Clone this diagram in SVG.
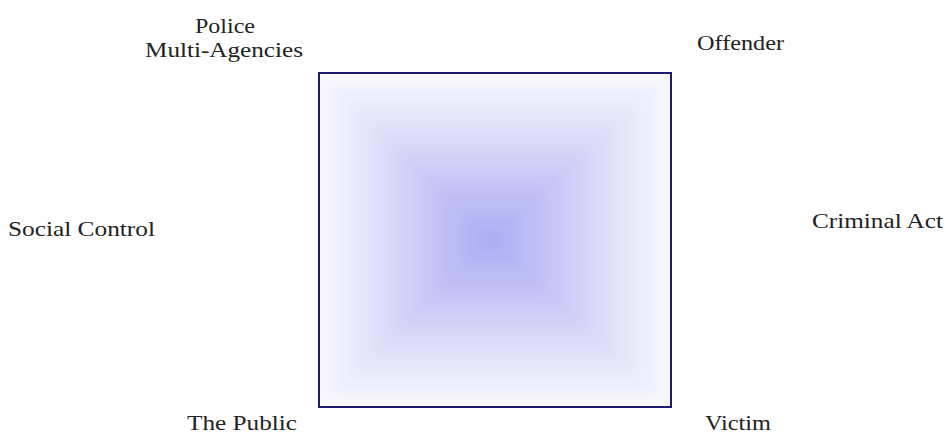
<svg xmlns="http://www.w3.org/2000/svg" width="946" height="434" viewBox="0 0 946 434">
<style>
.lbl{font-family:"Liberation Serif","Times New Roman","DejaVu Serif",serif;font-size:22px;fill:#222222}
</style>
<defs>
<clipPath id="sq"><rect x="319" y="73" width="352" height="334"/></clipPath>
<filter id="soft" x="-5%" y="-5%" width="110%" height="110%"><feGaussianBlur stdDeviation="5"/></filter>
</defs>
<rect width="946" height="434" fill="#ffffff"/>
<g id="square">
<g clip-path="url(#sq)">
<g filter="url(#soft)">
<rect x="309" y="63" width="372" height="354" fill="#f7f7fd"/>
<rect x="329.69" y="83.44" width="330" height="313.13" fill="#f2f2fc"/>
<rect x="340.38" y="93.88" width="308" height="292.25" fill="#ededfc"/>
<rect x="351.06" y="104.31" width="286" height="271.38" fill="#e8e8fb"/>
<rect x="361.75" y="114.75" width="264" height="250.5" fill="#e4e4fb"/>
<rect x="372.44" y="125.19" width="242" height="229.63" fill="#dfdffa"/>
<rect x="383.13" y="135.63" width="220" height="208.75" fill="#dadaf9"/>
<rect x="393.81" y="146.06" width="198" height="187.88" fill="#d5d5f9"/>
<rect x="404.5" y="156.5" width="176" height="167" fill="#d0d0f8"/>
<rect x="415.19" y="166.94" width="154" height="146.13" fill="#cbcbf8"/>
<rect x="425.88" y="177.38" width="132" height="125.25" fill="#c6c6f7"/>
<rect x="436.56" y="187.81" width="110" height="104.38" fill="#c1c1f6"/>
<rect x="447.25" y="198.25" width="88" height="83.5" fill="#bdbdf6"/>
<rect x="457.94" y="208.69" width="66" height="62.63" fill="#b8b8f5"/>
<rect x="468.63" y="219.13" width="44" height="41.75" fill="#b3b3f5"/>
<rect x="479.31" y="229.56" width="22" height="20.88" fill="#aeaef4"/>
</g>
</g>
<rect x="319" y="73" width="352" height="334" fill="none" stroke="#1c1c6e" stroke-width="2"/>
</g>
<g id="police"><text class="lbl" x="225" y="33" text-anchor="middle" textLength="60" lengthAdjust="spacingAndGlyphs">Police</text>
<text class="lbl" x="224" y="57" text-anchor="middle" textLength="158" lengthAdjust="spacingAndGlyphs">Multi-Agencies</text></g>
<g id="offender"><text class="lbl" x="697" y="50" textLength="87" lengthAdjust="spacingAndGlyphs">Offender</text></g>
<g id="social-control"><text class="lbl" x="8" y="236" textLength="147" lengthAdjust="spacingAndGlyphs">Social Control</text></g>
<g id="criminal-act"><text class="lbl" x="812" y="228" textLength="131" lengthAdjust="spacingAndGlyphs">Criminal Act</text></g>
<g id="the-public"><text class="lbl" x="187" y="430" textLength="110" lengthAdjust="spacingAndGlyphs">The Public</text></g>
<g id="victim"><text class="lbl" x="705" y="430" textLength="66" lengthAdjust="spacingAndGlyphs">Victim</text></g>
<g id="connectors"></g>
</svg>
